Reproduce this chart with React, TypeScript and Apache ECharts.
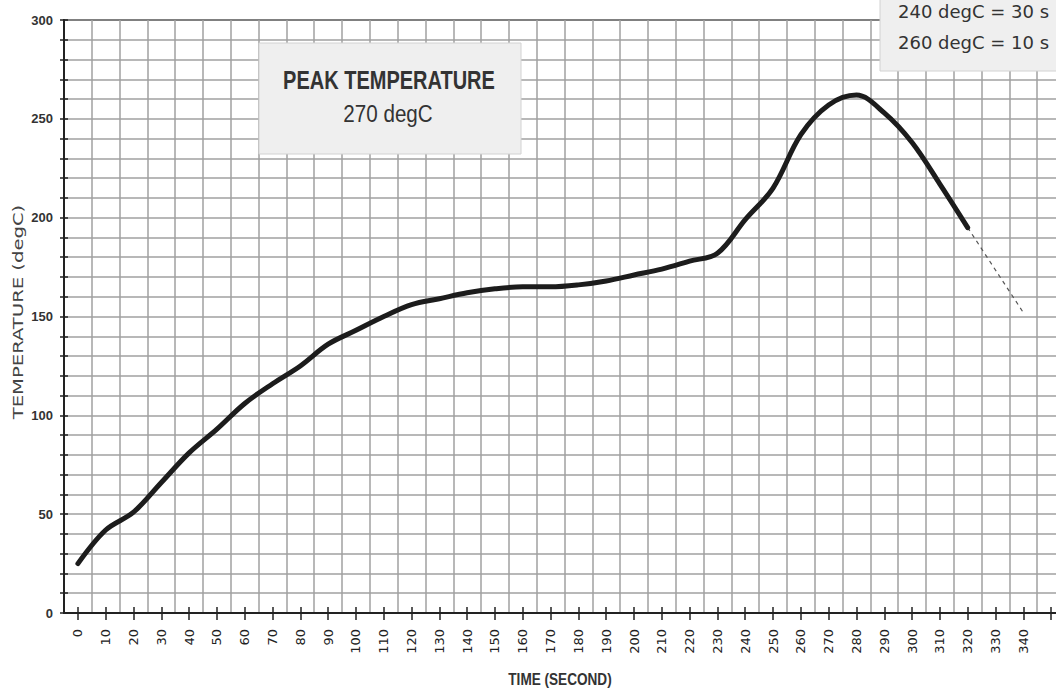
import { useEffect, useRef } from 'react';
import * as echarts from 'echarts';

// ---- data ----
const TIME_LABELS = [
  '0', '10', '20', '30', '40', '50', '60', '70', '80', '90',
  '100', '110', '120', '130', '140', '150', '160', '170', '180', '190',
  '200', '210', '220', '230', '240', '250', '260', '270', '280', '290',
  '300', '310', '320', '330', '340', '350',
];
const LAST_LABELLED = 340;

// measured profile, one value per 10 s from 0 s to 320 s
const PROFILE_TEMPS = [
  25, 42, 51, 66, 81, 93, 106, 116, 125, 136,
  143, 150, 156, 159, 162, 164, 165, 165, 166, 168,
  171, 174, 178, 182, 199, 215, 242, 257, 262, 253,
  238, 217, 195,
];

// dashed cooling extrapolation [time, temp]
const COOLING_TAIL: [string, number][] = [
  ['320', 195],
  ['340', 152],
];

const Y_MIN = 0;
const Y_MAX = 300;
const Y_STEP = 10;
const Y_LABEL_STEP = 50;

const PEAK_TITLE = 'PEAK TEMPERATURE';
const PEAK_VALUE = '270 degC';
const DWELL_LINES = ['240 degC = 30 s', '260 degC = 10 s'];
const X_NAME = 'TIME (SECOND)';
const Y_NAME = 'TEMPERATURE (degC)';

const ARIAL = "'Liberation Sans', Arial, sans-serif";
const WIDE = "'DejaVu Sans', Verdana, sans-serif";

export default function App() {
  const ref = useRef<HTMLDivElement>(null);

  useEffect(() => {
    if (!ref.current) return;
    const chart = echarts.init(ref.current, undefined, { renderer: 'svg' });

    const gridLine = { show: true, lineStyle: { color: '#a0a0a0', width: 1.5 } };

    chart.setOption({
      animation: false,
      backgroundColor: '#ffffff',
      grid: {
        left: 64,
        top: 20,
        width: 1001,
        height: 593,
        show: true,
        borderColor: '#222',
        borderWidth: 2,
        backgroundColor: 'transparent',
      },
      xAxis: [
        {
          type: 'category',
          data: TIME_LABELS,
          boundaryGap: true,
          position: 'bottom',
          axisLine: { show: true, lineStyle: { color: '#222', width: 2 } },
          axisTick: { show: true, alignWithLabel: true, length: 7, lineStyle: { color: '#222', width: 1.5 } },
          axisLabel: {
            show: true,
            interval: 0,
            rotate: 90,
            margin: 16,
            fontFamily: WIDE,
            fontSize: 13,
            color: '#222',
            formatter: (v: string) => (Number(v) > LAST_LABELLED ? '' : v),
          },
          splitLine: { ...gridLine, interval: 0 },
        },
        {
          type: 'category',
          data: TIME_LABELS,
          boundaryGap: true,
          position: 'bottom',
          axisLine: { show: false },
          axisTick: { show: true, inside: true, alignWithLabel: true, length: 6, lineStyle: { color: '#222', width: 1.5 } },
          axisLabel: { show: false },
          splitLine: { show: false },
        },
      ],
      yAxis: [
        {
          type: 'value',
          min: Y_MIN,
          max: Y_MAX,
          interval: Y_STEP,
          axisLine: { show: true, lineStyle: { color: '#222', width: 2 } },
          axisTick: { show: true, length: 4, lineStyle: { color: '#222', width: 1.5 } },
          axisLabel: {
            margin: 11,
            fontFamily: ARIAL,
            fontWeight: 'bold',
            fontSize: 13,
            color: '#333',
            formatter: (v: number) => (v % Y_LABEL_STEP === 0 ? String(v) : ''),
          },
          splitLine: gridLine,
        },
        {
          type: 'value',
          min: Y_MIN,
          max: Y_MAX,
          interval: Y_STEP,
          position: 'left',
          axisLine: { show: false },
          axisTick: { show: true, inside: true, length: 4, lineStyle: { color: '#222', width: 1.5 } },
          axisLabel: { show: false },
          splitLine: { show: false },
        },
      ],
      series: [
        {
          type: 'line',
          name: 'Profile',
          data: PROFILE_TEMPS,
          smooth: 0.35,
          symbol: 'none',
          lineStyle: { color: '#1c1c1c', width: 5, cap: 'round', join: 'round' },
          z: 5,
        },
        {
          type: 'line',
          name: 'Extrapolation',
          data: COOLING_TAIL,
          symbol: 'none',
          lineStyle: { color: '#555', width: 1.2, type: [4, 4] },
          z: 4,
        },
      ],
      graphic: [
        {
          type: 'text',
          x: 18,
          y: 312,
          rotation: Math.PI / 2,
          scaleX: 1.4,
          style: {
            text: Y_NAME,
            fontFamily: WIDE,
            fontSize: 14,
            fill: '#444',
            align: 'center',
            verticalAlign: 'middle',
          },
        },
        {
          type: 'text',
          x: 560,
          y: 680,
          scaleX: 0.85,
          style: {
            text: X_NAME,
            fontFamily: ARIAL,
            fontWeight: 'bold',
            fontSize: 16,
            fill: '#333',
            align: 'center',
            verticalAlign: 'middle',
          },
        },
        {
          type: 'rect',
          shape: { x: 259, y: 43, width: 262, height: 111 },
          style: { fill: '#efefef', stroke: '#d2d2d2', lineWidth: 1 },
          z: 10,
        },
        {
          type: 'text',
          x: 389,
          y: 81,
          scaleX: 0.8,
          style: {
            text: PEAK_TITLE,
            fontFamily: ARIAL,
            fontWeight: 'bold',
            fontSize: 25,
            fill: '#333',
            align: 'center',
            verticalAlign: 'middle',
          },
          z: 11,
        },
        {
          type: 'text',
          x: 388,
          y: 114,
          scaleX: 0.86,
          style: {
            text: PEAK_VALUE,
            fontFamily: ARIAL,
            fontSize: 24,
            fill: '#333',
            align: 'center',
            verticalAlign: 'middle',
          },
          z: 11,
        },
        {
          type: 'rect',
          shape: { x: 880, y: -60, width: 260, height: 131 },
          style: { fill: '#efefef', stroke: '#d2d2d2', lineWidth: 1 },
          z: 10,
        },
        {
          type: 'text',
          x: 898,
          y: 11,
          style: {
            text: DWELL_LINES[0],
            fontFamily: WIDE,
            fontSize: 18,
            fill: '#333',
            align: 'left',
            verticalAlign: 'middle',
          },
          z: 11,
        },
        {
          type: 'text',
          x: 898,
          y: 42,
          style: {
            text: DWELL_LINES[1],
            fontFamily: WIDE,
            fontSize: 18,
            fill: '#333',
            align: 'left',
            verticalAlign: 'middle',
          },
          z: 11,
        },
      ],
    });

    return () => chart.dispose();
  }, []);

  return (
    <div
      style={{
        position: 'absolute',
        left: 0,
        top: 0,
        width: 1056,
        height: 696,
        overflow: 'hidden',
        background: '#fff',
      }}
    >
      <div ref={ref} style={{ width: 1100, height: 696 }} />
    </div>
  );
}
